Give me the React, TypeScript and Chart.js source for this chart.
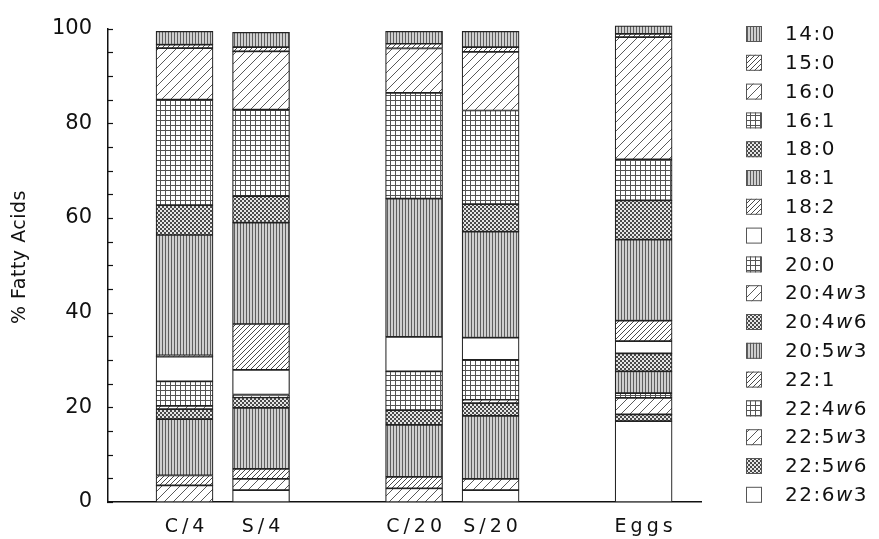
import React, { useEffect, useRef } from 'react';
import { Chart, registerables } from 'chart.js';

Chart.register(...registerables);

// ---- data ----
const samples = ['C/4', 'S/4', 'C/20', 'S/20', 'Eggs'];
const sampleSlots = [1, 2, 4, 5, 7];
const yTickValues = [0, 20, 40, 60, 80, 100];

// legend order (top of stack first)
const acids = [
  '14:0', '15:0', '16:0', '16:1', '18:0', '18:1', '18:2', '18:3', '20:0',
  '20:4w3', '20:4w6', '20:5w3', '22:1', '22:4w6', '22:5w3', '22:5w6', '22:6w3',
];

// values per sample: C/4, S/4, C/20, S/20, Eggs
const fa14_0 = [2.8, 3.1, 2.6, 3.3, 1.7];
const fa15_0 = [0.7, 0.9, 1.0, 1.0, 0.7];
const fa16_0 = [10.9, 12.3, 9.4, 12.4, 25.8];
const fa16_1 = [22.3, 18.3, 22.3, 19.8, 8.7];
const fa18_0 = [6.3, 5.6, 0, 5.8, 8.3];
const fa18_1 = [25.4, 21.4, 29.2, 22.4, 17.1];
const fa18_2 = [0.3, 9.7, 0, 0, 4.3];
const fa18_3 = [5.2, 5.2, 7.3, 4.7, 2.6];
const fa20_0 = [5.2, 0.3, 8.2, 8.4, 0];
const fa20_4w3 = [0.7, 0.3, 0, 0.7, 0];
const fa20_4w6 = [2.1, 2.2, 3.1, 2.7, 3.8];
const fa20_5w3 = [11.9, 12.9, 11.0, 13.3, 4.6];
const fa22_1 = [2.1, 2.1, 2.4, 0, 0];
const fa22_4w6 = [0, 0, 0, 0, 1.0];
const fa22_5w3 = [3.5, 2.4, 2.9, 2.4, 3.5];
const fa22_5w6 = [0, 0, 0, 0, 1.4];
const fa22_6w3 = [0, 2.5, 0, 2.5, 17.1];

const acidValues = [
  fa14_0, fa15_0, fa16_0, fa16_1, fa18_0, fa18_1, fa18_2, fa18_3, fa20_0,
  fa20_4w3, fa20_4w6, fa20_5w3, fa22_1, fa22_4w6, fa22_5w3, fa22_5w6, fa22_6w3,
];

const acidPatterns = [
  'vertical', 'denseDiag', 'sparseDiag', 'grid', 'checker', 'vertical', 'denseDiag', 'white', 'grid',
  'sparseDiag', 'checker', 'vertical', 'denseDiag', 'grid', 'sparseDiag', 'checker', 'white',
];

const FONT = '"DejaVu Sans", "Liberation Sans", sans-serif';

function makePattern(kind: string): CanvasPattern | string {
  if (kind === 'white') return '#ffffff';
  const c = document.createElement('canvas');
  let s = 4;
  if (kind === 'vertical') s = 3;
  if (kind === 'denseDiag') s = 5;
  if (kind === 'sparseDiag') s = 9;
  if (kind === 'grid') s = 5;
  if (kind === 'checker') s = 4;
  c.width = s;
  c.height = s;
  const g = c.getContext('2d')!;
  g.fillStyle = '#ffffff';
  g.fillRect(0, 0, s, s);
  if (kind === 'vertical') {
    g.fillStyle = '#cfcfcf';
    g.fillRect(0, 0, s, s);
    g.fillStyle = '#5e5e5e';
    g.fillRect(0, 0, 1, s);
  } else if (kind === 'denseDiag' || kind === 'sparseDiag') {
    g.strokeStyle = kind === 'denseDiag' ? '#4a4a4a' : '#5a5a5a';
    g.lineWidth = 1;
    g.beginPath();
    g.moveTo(0, s); g.lineTo(s, 0);
    g.moveTo(-2, 2); g.lineTo(2, -2);
    g.moveTo(s - 2, s + 2); g.lineTo(s + 2, s - 2);
    g.stroke();
  } else if (kind === 'grid') {
    g.fillStyle = '#555555';
    g.fillRect(0, 0, s, 1);
    g.fillRect(0, 0, 1, s);
  } else if (kind === 'checker') {
    g.fillStyle = '#e6e6e6';
    g.fillRect(0, 0, s, s);
    g.fillStyle = '#4a4a4a';
    g.fillRect(0, 0, 2, 2);
    g.fillRect(2, 2, 2, 2);
  }
  return g.createPattern(c, 'repeat')!;
}

function drawLabelWithItalicW(ctx: CanvasRenderingContext2D, text: string, x: number, y: number) {
  const parts = text.split('w');
  let cx = x;
  parts.forEach((p, i) => {
    ctx.font = `20px ${FONT}`;
    ctx.fillText(p, cx, y);
    cx += ctx.measureText(p).width;
    if (i < parts.length - 1) {
      ctx.font = `italic 20px ${FONT}`;
      ctx.fillText('w', cx, y);
      cx += ctx.measureText('w').width;
    }
  });
}

const decorPlugin = {
  id: 'decor',
  afterDraw(chart: any) {
    const ctx: CanvasRenderingContext2D = chart.ctx;
    const xs = chart.scales.x;
    const ys = chart.scales.y;
    ctx.save();
    // inward tick marks on y axis
    ctx.strokeStyle = '#111';
    ctx.lineWidth = 1.2;
    for (let v = 0; v <= 100; v += 5) {
      const py = Math.round(ys.getPixelForValue(v)) + 0.5;
      ctx.beginPath();
      ctx.moveTo(xs.left - 1, py);
      ctx.lineTo(xs.left + 5, py);
      ctx.stroke();
    }
    // x category labels
    ctx.fillStyle = '#111';
    ctx.font = `19px ${FONT}`;
    (ctx as any).letterSpacing = '4px';
    ctx.textAlign = 'center';
    ctx.textBaseline = 'middle';
    samples.forEach((s, i) => {
      ctx.fillText(s, xs.getPixelForValue(sampleSlots[i]) + 2, 527);
    });
    // y title
    (ctx as any).letterSpacing = '0.5px';
    ctx.save();
    ctx.translate(20, 257);
    ctx.rotate(-Math.PI / 2);
    ctx.font = `19px ${FONT}`;
    ctx.fillText('% Fatty Acids', 0, 0);
    ctx.restore();
    // legend
    const datasets = chart.data.datasets;
    (ctx as any).letterSpacing = '1.5px';
    ctx.textAlign = 'left';
    ctx.textBaseline = 'middle';
    acids.forEach((name, i) => {
      const ds = datasets.find((d: any) => d.label === name);
      const rowY = 34 + i * 28.8;
      ctx.fillStyle = ds.backgroundColor;
      ctx.fillRect(746, rowY - 8, 16, 16);
      ctx.strokeStyle = '#555';
      ctx.lineWidth = 1;
      ctx.strokeRect(746.5, rowY - 7.5, 15, 15);
      ctx.fillStyle = '#111';
      drawLabelWithItalicW(ctx, name, 785, rowY + 1);
    });
    ctx.restore();
  },
};

export default function App() {
  const ref = useRef<HTMLCanvasElement | null>(null);

  useEffect(() => {
    document.body.style.margin = '0';
    const canvas = ref.current!;
    // stack from bottom: reverse of legend order
    const order = acids.map((_, i) => i).reverse();
    const datasets = order.map((i) => ({
      label: acids[i],
      data: acidValues[i].map((v, k) => ({ x: sampleSlots[k], y: v })),
      backgroundColor: makePattern(acidPatterns[i]) as any,
      borderColor: '#222',
      borderWidth: 1.2,
      borderSkipped: false as any,
      barThickness: 57,
      clip: false as any,
    }));

    const chart = new Chart(canvas, {
      type: 'bar',
      data: { datasets },
      plugins: [decorPlugin],
      options: {
        animation: false,
        responsive: true,
        maintainAspectRatio: false,
        layout: { padding: { left: 0, right: 178, top: 24, bottom: 0 } },
        plugins: {
          legend: { display: false },
          tooltip: { enabled: false },
        },
        scales: {
          x: {
            type: 'linear',
            stacked: true,
            min: 0,
            max: 7.75,
            offset: false,
            grid: { display: false },
            border: { display: true, color: '#111', width: 1.5 },
            ticks: { display: false },
            afterFit: (scale: any) => {
              scale.height = 37;
            },
          },
          y: {
            type: 'linear',
            stacked: true,
            min: 0,
            max: 100,
            grid: { display: false, drawTicks: false },
            border: { display: true, color: '#111', width: 1.5 },
            afterBuildTicks: (scale: any) => {
              scale.ticks = yTickValues.map((v) => ({ value: v }));
            },
            ticks: {
              autoSkip: false,
              padding: 16,
              color: '#111',
              font: { family: FONT, size: 21 },
              callback: (v: any) => String(v),
            },
            afterFit: (scale: any) => {
              scale.width = 108;
            },
          },
        },
      },
    });
    return () => chart.destroy();
  }, []);

  return (
    <div style={{ width: 879, height: 539, position: 'relative', background: '#fff' }}>
      <canvas ref={ref} />
    </div>
  );
}
